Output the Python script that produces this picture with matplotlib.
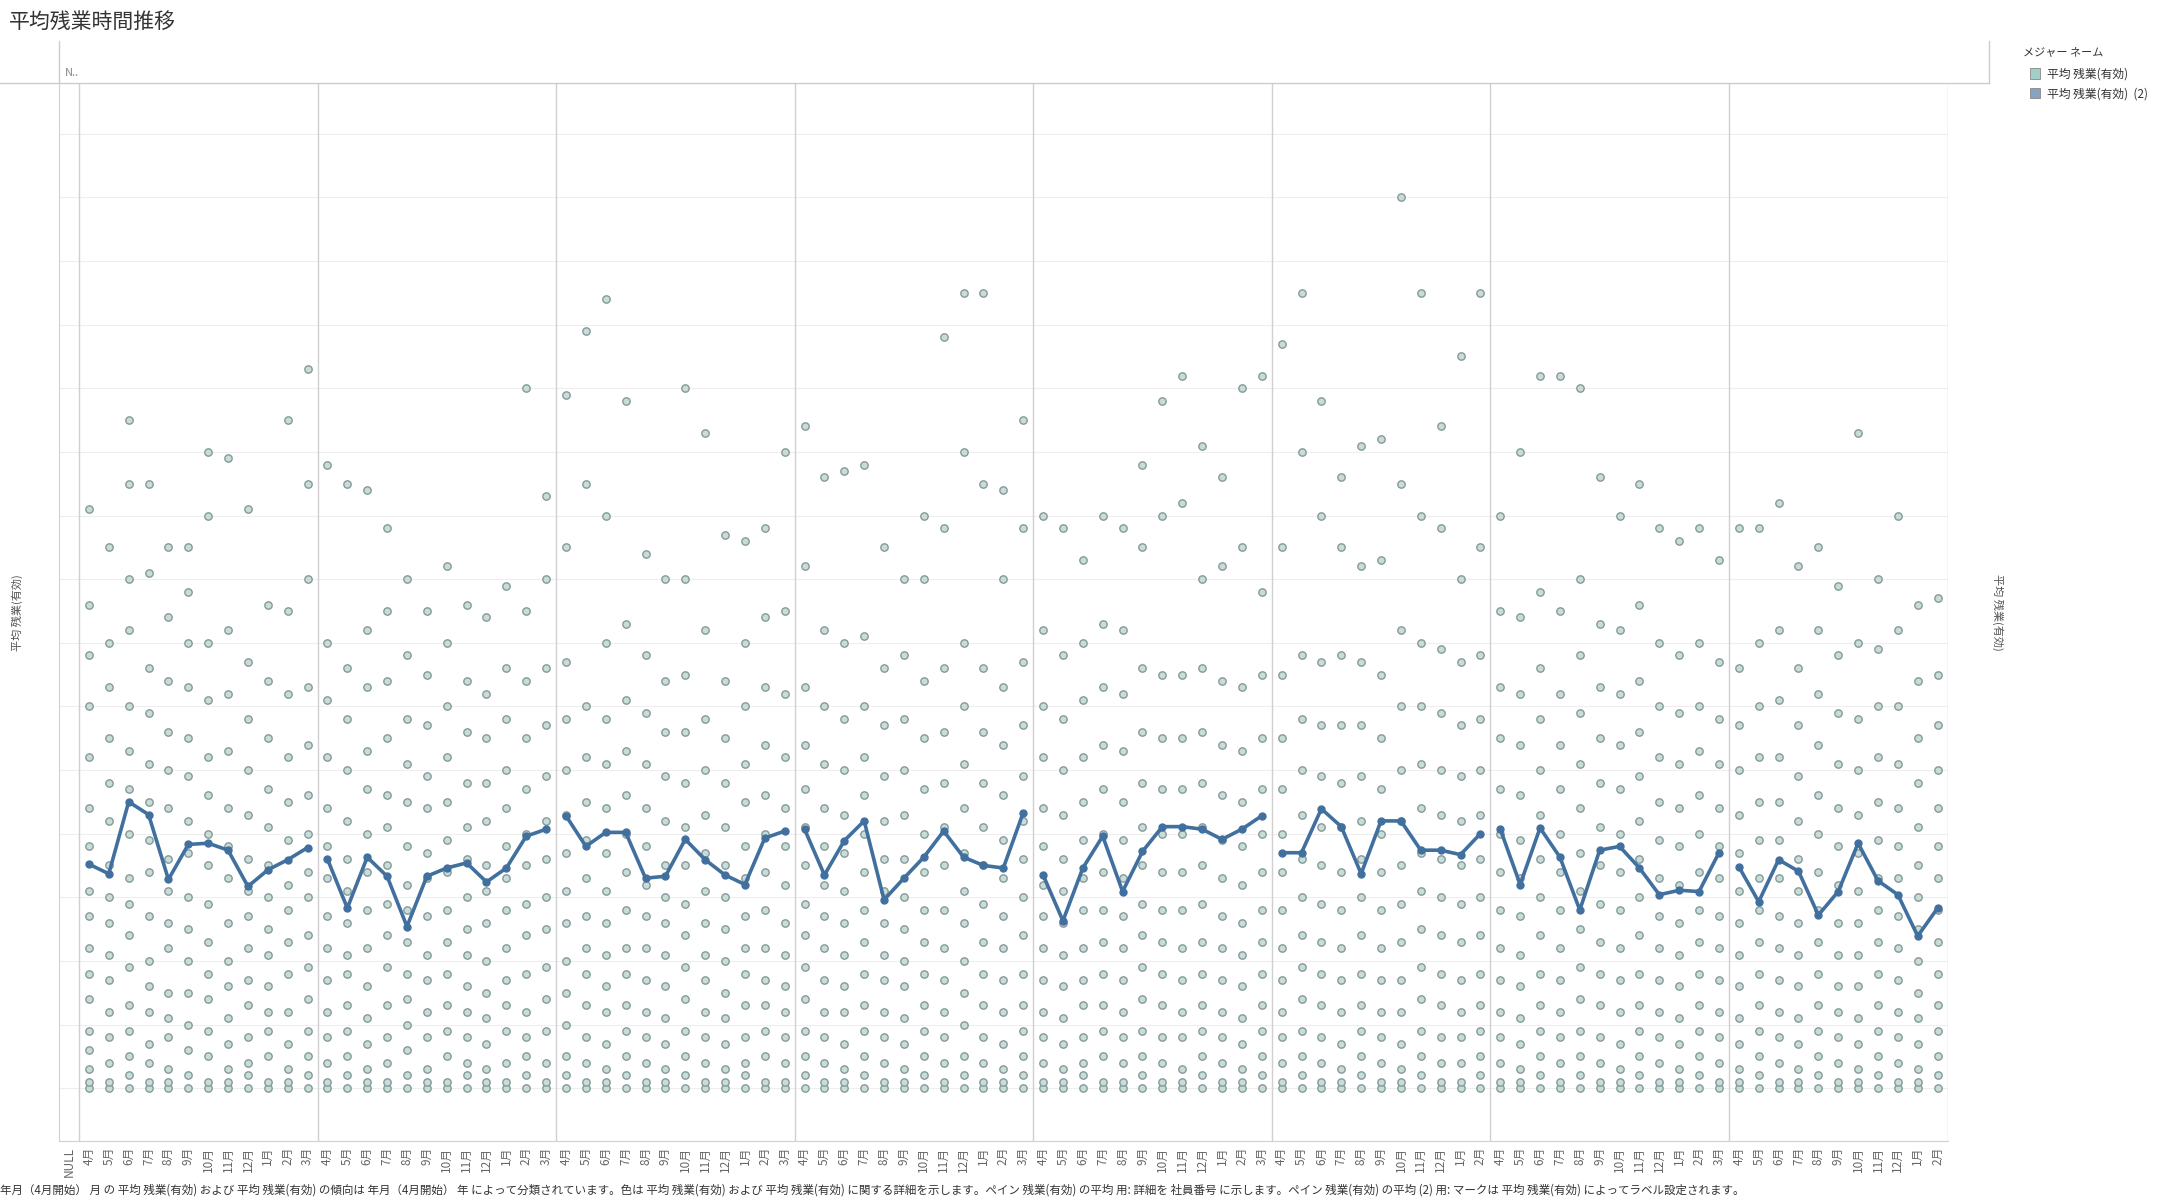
import matplotlib.pyplot as plt
import numpy as np

plt.rcParams['font.family'] = ['Noto Sans CJK JP', 'DejaVu Sans']

months = ["4月", "5月", "6月", "7月", "8月", "9月", "10月", "11月", "12月", "1月", "2月", "3月"]
panel_sizes = [12, 12, 12, 12, 12, 11, 12, 11]

# monthly average overtime per year panel (hours)
avg_lines = [
    [35.2, 33.7, 45.0, 43.0, 32.8, 38.3, 38.5, 37.4, 31.7, 34.3, 35.9, 37.8],
    [36.0, 28.3, 36.3, 33.3, 25.4, 33.3, 34.6, 35.4, 32.4, 34.6, 39.6, 40.7],
    [42.8, 38.0, 40.2, 40.2, 33.0, 33.3, 39.1, 35.9, 33.5, 32.0, 39.3, 40.4],
    [40.7, 33.5, 38.9, 42.0, 29.6, 33.0, 36.3, 40.4, 36.3, 35.0, 34.6, 43.3],
    [33.5, 26.3, 34.6, 39.6, 30.9, 37.2, 41.1, 41.1, 40.7, 39.1, 40.7, 42.8],
    [37.0, 37.0, 43.9, 41.1, 33.7, 42.0, 42.0, 37.4, 37.4, 36.7, 40.0],
    [40.7, 32.0, 40.9, 36.3, 28.0, 37.4, 38.0, 34.6, 30.4, 31.1, 30.9, 37.0],
    [34.8, 29.3, 35.9, 34.1, 27.2, 30.9, 38.5, 32.6, 30.4, 23.9, 28.3],
]

# per-employee overtime values per month column (hours), rough reading
emp_values = [
    [0, 1, 3, 6, 9, 14, 18, 22, 27, 31, 38, 44, 52, 60, 68, 76, 91],
    [0, 1, 4, 8, 12, 17, 21, 26, 30, 35, 42, 48, 55, 63, 70, 85],
    [0, 2, 5, 9, 13, 19, 24, 29, 33, 40, 47, 53, 60, 72, 80, 95, 105],
    [0, 1, 4, 7, 12, 16, 20, 27, 34, 39, 45, 51, 59, 66, 81, 95],
    [0, 1, 3, 8, 11, 15, 22, 26, 31, 36, 44, 50, 56, 64, 74, 85],
    [0, 2, 6, 10, 15, 20, 25, 30, 37, 42, 49, 55, 63, 70, 78, 85],
    [0, 1, 5, 9, 14, 18, 23, 29, 35, 40, 46, 52, 61, 70, 90, 100],
    [0, 1, 3, 7, 11, 16, 20, 26, 33, 38, 44, 53, 62, 72, 99],
    [0, 2, 4, 8, 13, 17, 22, 27, 31, 36, 43, 50, 58, 67, 91],
    [0, 1, 5, 9, 12, 16, 21, 25, 30, 35, 41, 47, 55, 64, 76],
    [0, 1, 3, 7, 12, 18, 23, 28, 32, 39, 45, 52, 62, 75, 105],
    [0, 2, 5, 9, 14, 19, 24, 30, 34, 40, 46, 54, 63, 80, 95, 113],
    [0, 1, 4, 8, 12, 17, 22, 27, 33, 38, 44, 52, 61, 70, 98],
    [0, 2, 5, 9, 13, 18, 21, 26, 31, 36, 42, 50, 58, 66, 95],
    [0, 1, 3, 7, 11, 16, 22, 28, 34, 40, 47, 53, 63, 72, 94],
    [0, 1, 4, 8, 13, 19, 24, 29, 35, 41, 46, 55, 64, 75, 88],
    [0, 2, 6, 10, 14, 18, 23, 28, 32, 38, 45, 51, 58, 68, 80],
    [0, 1, 3, 8, 12, 17, 21, 27, 33, 37, 44, 49, 57, 65, 75],
    [0, 1, 5, 9, 13, 18, 23, 28, 34, 39, 45, 52, 60, 70, 82],
    [0, 2, 4, 8, 12, 16, 21, 25, 30, 36, 41, 48, 56, 64, 76],
    [0, 1, 3, 7, 11, 15, 20, 26, 31, 35, 42, 48, 55, 62, 74],
    [0, 1, 4, 9, 13, 17, 22, 28, 33, 38, 44, 50, 58, 66, 79],
    [0, 2, 5, 8, 12, 18, 24, 29, 35, 40, 47, 55, 64, 75, 110],
    [0, 1, 4, 9, 14, 19, 25, 30, 36, 42, 49, 57, 66, 80, 93],
    [0, 2, 5, 10, 15, 20, 26, 31, 37, 43, 50, 58, 67, 85, 109],
    [0, 1, 4, 8, 13, 18, 22, 27, 33, 39, 45, 52, 60, 95, 119],
    [0, 1, 3, 7, 12, 16, 21, 26, 31, 37, 44, 51, 58, 70, 90, 124],
    [0, 2, 5, 9, 13, 18, 22, 28, 34, 40, 46, 53, 61, 73, 108],
    [0, 1, 4, 8, 12, 17, 22, 27, 32, 38, 44, 51, 59, 68, 84],
    [0, 1, 3, 7, 11, 16, 21, 26, 30, 35, 42, 49, 56, 64, 80],
    [0, 2, 5, 9, 14, 19, 24, 29, 35, 41, 48, 56, 65, 80, 110],
    [0, 1, 4, 8, 12, 17, 21, 26, 31, 37, 43, 50, 58, 72, 103],
    [0, 1, 3, 7, 11, 15, 20, 25, 30, 35, 41, 48, 55, 64, 87],
    [0, 2, 4, 8, 13, 18, 22, 27, 33, 38, 45, 51, 60, 70, 86],
    [0, 1, 5, 9, 13, 17, 22, 28, 34, 40, 46, 54, 63, 74, 88],
    [0, 1, 4, 8, 12, 16, 21, 26, 32, 38, 44, 52, 62, 75, 100],
    [0, 2, 5, 9, 14, 19, 24, 29, 35, 41, 47, 54, 63, 82, 104],
    [0, 1, 4, 8, 12, 17, 22, 27, 32, 38, 44, 51, 60, 72, 96],
    [0, 1, 3, 7, 12, 16, 21, 26, 31, 37, 43, 50, 58, 70, 97],
    [0, 2, 5, 9, 13, 18, 23, 28, 34, 40, 46, 52, 60, 71, 98],
    [0, 1, 4, 8, 12, 17, 21, 26, 31, 36, 42, 49, 57, 66, 85],
    [0, 1, 3, 7, 11, 16, 20, 25, 30, 36, 43, 50, 58, 68, 80],
    [0, 2, 5, 9, 13, 18, 23, 28, 34, 40, 47, 55, 64, 80, 90],
    [0, 1, 4, 8, 12, 17, 22, 28, 35, 41, 48, 56, 66, 88, 118],
    [0, 2, 5, 10, 15, 20, 26, 31, 37, 44, 51, 60, 70, 100, 125],
    [0, 1, 4, 8, 13, 18, 23, 29, 35, 41, 48, 56, 66, 95, 125],
    [0, 1, 3, 7, 12, 17, 22, 27, 33, 39, 46, 54, 63, 80, 94],
    [0, 2, 5, 9, 13, 18, 24, 30, 36, 42, 49, 57, 67, 88, 105],
    [0, 1, 4, 8, 12, 17, 22, 27, 32, 38, 44, 52, 60, 72, 90],
    [0, 1, 3, 7, 11, 16, 21, 26, 31, 36, 43, 50, 58, 68, 88],
    [0, 2, 4, 8, 13, 17, 22, 28, 33, 39, 45, 52, 61, 70, 83],
    [0, 1, 5, 9, 13, 18, 23, 28, 34, 40, 47, 54, 63, 73, 90],
    [0, 1, 4, 8, 12, 17, 22, 27, 33, 39, 45, 53, 62, 72, 88],
    [0, 2, 5, 9, 14, 19, 24, 29, 35, 41, 48, 56, 66, 85, 98],
    [0, 1, 4, 8, 13, 18, 23, 28, 34, 40, 47, 55, 65, 90, 108],
    [0, 1, 3, 8, 12, 17, 22, 28, 34, 40, 47, 55, 65, 92, 112],
    [0, 2, 5, 9, 13, 18, 23, 29, 35, 41, 48, 56, 66, 80, 101],
    [0, 1, 4, 8, 12, 17, 22, 27, 33, 39, 46, 54, 64, 82, 96],
    [0, 1, 3, 7, 11, 16, 21, 26, 32, 38, 45, 53, 63, 85, 110],
    [0, 2, 5, 9, 13, 18, 23, 28, 34, 40, 47, 55, 65, 78, 112],
    [0, 1, 4, 8, 12, 17, 22, 28, 34, 40, 47, 55, 65, 85, 117],
    [0, 2, 5, 9, 14, 19, 24, 30, 36, 43, 50, 58, 68, 100, 125],
    [0, 1, 4, 8, 13, 18, 23, 29, 35, 41, 49, 57, 67, 90, 108],
    [0, 1, 3, 7, 12, 17, 22, 28, 34, 41, 48, 57, 68, 85, 96],
    [0, 2, 5, 9, 13, 18, 24, 30, 36, 42, 49, 57, 67, 82, 101],
    [0, 1, 4, 8, 12, 17, 22, 28, 34, 40, 47, 55, 65, 83, 102],
    [0, 1, 3, 7, 12, 17, 23, 29, 35, 42, 50, 60, 72, 95, 140],
    [0, 2, 5, 9, 14, 19, 25, 31, 37, 44, 51, 60, 70, 90, 125],
    [0, 1, 4, 8, 13, 18, 24, 30, 36, 43, 50, 59, 69, 88, 104],
    [0, 1, 4, 8, 12, 17, 23, 29, 35, 42, 49, 57, 67, 80, 115],
    [0, 2, 5, 9, 13, 18, 24, 30, 36, 43, 50, 58, 68, 85, 125],
    [0, 1, 4, 8, 12, 17, 22, 28, 34, 40, 47, 55, 63, 75, 90],
    [0, 1, 3, 7, 11, 16, 21, 27, 33, 39, 46, 54, 62, 74, 100],
    [0, 2, 5, 9, 13, 18, 24, 30, 36, 43, 50, 58, 66, 78, 112],
    [0, 1, 4, 8, 12, 17, 22, 28, 34, 40, 47, 54, 62, 75, 112],
    [0, 2, 5, 9, 14, 19, 25, 31, 37, 44, 51, 59, 68, 80, 110],
    [0, 1, 4, 8, 13, 18, 23, 29, 35, 41, 48, 55, 63, 73, 96],
    [0, 1, 3, 7, 12, 17, 22, 28, 34, 40, 47, 54, 62, 72, 90],
    [0, 2, 5, 9, 13, 18, 24, 30, 36, 42, 49, 56, 64, 76, 95],
    [0, 1, 4, 8, 12, 17, 22, 27, 33, 39, 45, 52, 60, 70, 88],
    [0, 1, 3, 7, 11, 16, 21, 26, 32, 38, 44, 51, 59, 68, 86],
    [0, 2, 5, 9, 13, 18, 23, 28, 34, 40, 46, 53, 60, 70, 88],
    [0, 1, 4, 8, 12, 17, 22, 27, 33, 38, 44, 51, 58, 67, 83],
    [0, 1, 3, 7, 11, 16, 21, 26, 31, 37, 43, 50, 57, 66, 88],
    [0, 2, 5, 9, 13, 18, 23, 28, 33, 39, 45, 52, 60, 70, 88],
    [0, 1, 4, 8, 12, 17, 22, 27, 33, 39, 45, 52, 61, 72, 92],
    [0, 1, 3, 7, 11, 16, 21, 26, 31, 36, 42, 49, 57, 66, 82],
    [0, 2, 5, 9, 13, 18, 23, 28, 34, 40, 46, 54, 62, 72, 85],
    [0, 1, 4, 8, 12, 16, 21, 26, 32, 38, 44, 51, 59, 68, 79],
    [0, 1, 3, 7, 11, 16, 21, 26, 31, 37, 43, 50, 58, 70, 103],
    [0, 2, 5, 9, 13, 18, 23, 28, 33, 39, 45, 52, 60, 69, 80],
    [0, 1, 4, 8, 12, 17, 22, 27, 33, 38, 44, 51, 60, 72, 90],
    [0, 1, 3, 7, 11, 15, 20, 25, 30, 35, 41, 48, 55, 64, 76],
    [0, 2, 5, 9, 13, 18, 23, 28, 33, 38, 44, 50, 57, 65, 77],
    [0, 1, 4, 8, 12, 17, 22, 27, 32, 38, 44, 51, 59, 70, 76],
]

fig = plt.figure(figsize=(21.57, 12.01), dpi=100)
ax = fig.add_axes([0.0274, 0.05, 0.8755, 0.881])

n_cols = 1 + sum(panel_sizes)
ax.set_xlim(-0.5, n_cols - 0.5)
ax.set_ylim(-8.3, 158)

for v in range(0, 160, 10):
    ax.axhline(v, color="#eeeeee", lw=0.8, zorder=0)

# panel separators
bounds = [0.5]
for s in panel_sizes:
    bounds.append(bounds[-1] + s)
for b in bounds:
    ax.axvline(b, color="#d0d0d0", lw=1, zorder=1)

for i, vals in enumerate(emp_values):
    x = i + 1
    ax.scatter(np.full(len(vals), x), vals, s=28, facecolor="#c8ddd8",
               edgecolor="#85999a", lw=1.0, zorder=2)

start = 1
for size, line in zip(panel_sizes, avg_lines):
    xs = np.arange(start, start + size)
    ax.plot(xs, line, color="#41709f", lw=2.6, marker="o", ms=5, zorder=4)
    start += size

labels = ["NULL"]
for s in panel_sizes:
    labels += months[:s]
ax.set_xticks(range(n_cols))
ax.set_xticklabels(labels, rotation=90, fontsize=8.5, color="#666666")
ax.tick_params(axis="x", length=0, pad=4)
ax.set_yticks([])
for sp in ["top", "right"]:
    ax.spines[sp].set_visible(False)
ax.spines["left"].set_color("#d0d0d0")
ax.spines["bottom"].set_color("#d0d0d0")

# header band
fig.add_artist(plt.Line2D([0, 0.922], [0.931, 0.931], color="#cccccc", lw=1))
fig.add_artist(plt.Line2D([0.0274, 0.0274], [0.931, 0.966], color="#cccccc", lw=1))
fig.add_artist(plt.Line2D([0.922, 0.922], [0.931, 0.966], color="#cccccc", lw=1))
fig.text(0.030, 0.937, "N..", fontsize=8, color="#888888")

fig.text(0.004, 0.982, "平均残業時間推移", fontsize=15, color="#333333", va="center")
fig.text(0.008, 0.49, "平均 残業(有効)", rotation=90, fontsize=8, color="#555555",
         ha="center", va="center")
fig.text(0.926, 0.49, "平均 残業(有効)", rotation=270, fontsize=8, color="#555555",
         ha="center", va="center")

# legend
fig.text(0.938, 0.953, "メジャー ネーム", fontsize=8, color="#333333")
fig.add_artist(plt.Rectangle((0.941, 0.934), 0.0048, 0.009, facecolor="#a1cfc8",
                             edgecolor="#888888", lw=0.6))
fig.text(0.949, 0.938, "平均 残業(有効)", fontsize=8.5, color="#333333", va="center")
fig.add_artist(plt.Rectangle((0.941, 0.918), 0.0048, 0.009, facecolor="#86a3c3",
                             edgecolor="#888888", lw=0.6))
fig.text(0.949, 0.922, "平均 残業(有効)  (2)", fontsize=8.5, color="#333333", va="center")

fig.text(0.0, 0.006,
         "年月（4月開始） 月 の 平均 残業(有効) および 平均 残業(有効) の傾向は 年月（4月開始） 年 によって分類されています。"
         "色は 平均 残業(有効) および 平均 残業(有効) に関する詳細を示します。ペイン 残業(有効) の平均 用: 詳細を 社員番号 に示します。"
         "ペイン 残業(有効) の平均 (2) 用: マークは 平均 残業(有効) によってラベル設定されます。",
         fontsize=8.3, color="#333333")

fig.savefig("out.png", dpi=100, facecolor="white")
